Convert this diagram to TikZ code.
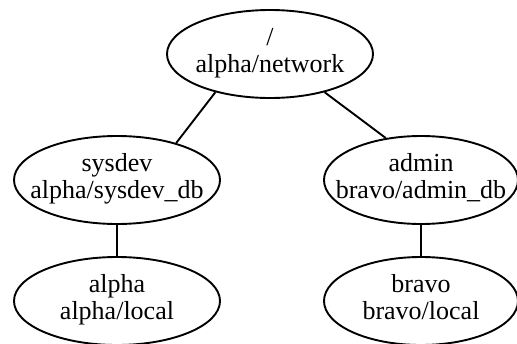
\documentclass[tikz,border=0pt]{standalone}
\usepackage{fontspec}
\setmainfont{Liberation Serif}
\usetikzlibrary{shapes.geometric}

\tikzset{every picture/.style={line width=1.9pt}}
\tikzset{
	mount/.style={draw, ellipse, inner sep=0pt, minimum width=206pt, minimum height=88pt,
		font=\fontsize{26}{27}\selectfont}
}
% two centred lines that do not widen the ellipse
\newcommand{\mountlabel}[2]{\makebox[0pt]{\begin{tabular}{@{}c@{}}#1\\#2\end{tabular}}}

\begin{document}
\begin{tikzpicture}[x=1pt,y=1pt,yscale=-1,xscale=1]
		\useasboundingbox (0,0) rectangle (517,343);

		%Shape: Ellipse [id:root]
		\node [mount] (net) at (270,54) {\mountlabel{/}{alpha/network}};
		%Shape: Ellipse [id:sysdev]
		\node [mount] (sysdev) at (117,180) {\mountlabel{sysdev}{alpha/sysdev\_db}};
		%Shape: Ellipse [id:admin]
		\node [mount, minimum width=194pt] (admin) at (421,180) {\mountlabel{admin}{bravo/admin\_db}};
		%Shape: Ellipse [id:alpha]
		\node [mount] (alpha) at (117,301) {\mountlabel{alpha}{alpha/local}};
		%Shape: Ellipse [id:bravo]
		\node [mount, minimum width=194pt] (bravo) at (421,301) {\mountlabel{bravo}{bravo/local}};

		%Straight Lines
		\draw (net.215) -- (sysdev.32) ;
		\draw (net.325) -- (admin.130) ;
		\draw (sysdev) -- (alpha) ;
		\draw (admin) -- (bravo) ;

		\end{tikzpicture}
\end{document}
